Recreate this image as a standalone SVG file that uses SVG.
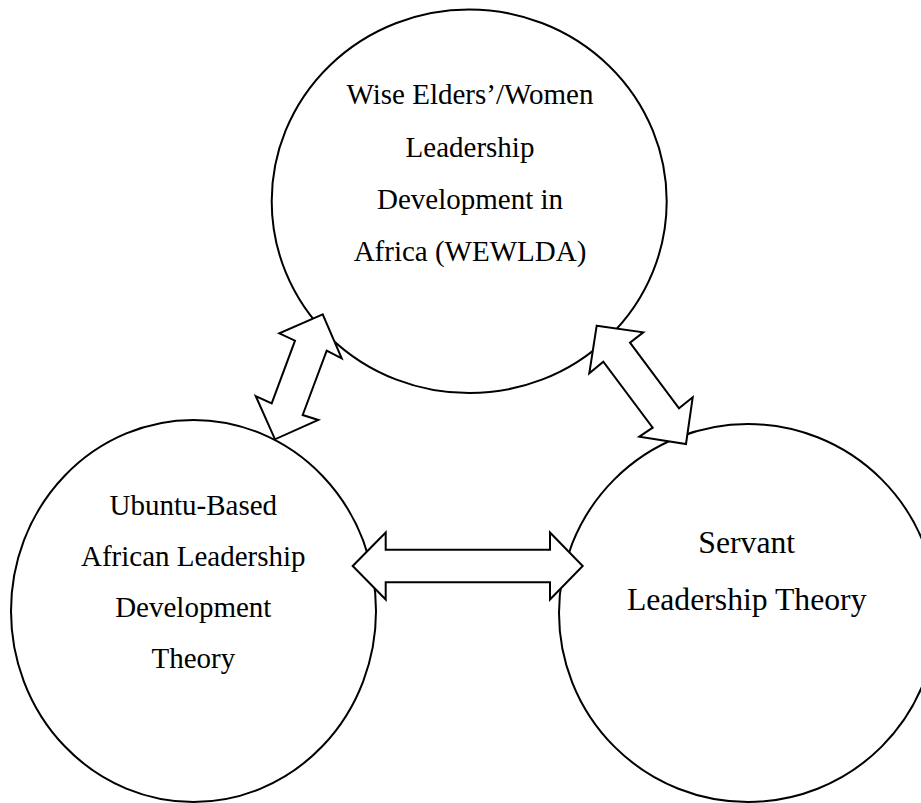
<svg xmlns="http://www.w3.org/2000/svg" width="921" height="803" viewBox="0 0 921 803">
  <style>
    .node { fill: #ffffff; stroke: #000000; stroke-width: 2; }
    .label { font-family: "Liberation Serif", "Times New Roman", serif; fill: #000000; text-anchor: middle; }
    .arrow { fill: #ffffff; stroke: #000000; stroke-width: 2; stroke-linejoin: miter; stroke-miterlimit: 10; }
  </style>
  <rect width="921" height="803" fill="#ffffff"/>

  <g id="wewlda">
    <ellipse class="node" cx="469.2" cy="201.3" rx="197.5" ry="191.8"/>
    <text class="label" font-size="29" x="470" y="104">Wise Elders’/Women</text>
    <text class="label" font-size="29" x="470" y="157">Leadership</text>
    <text class="label" font-size="29" x="470" y="209">Development in</text>
    <text class="label" font-size="29" x="470" y="261">Africa (WEWLDA)</text>
  </g>

  <g id="ubuntu">
    <ellipse class="node" cx="193.5" cy="611" rx="182.5" ry="191"/>
    <text class="label" font-size="29" x="193.3" y="515">Ubuntu-Based</text>
    <text class="label" font-size="29" x="193.3" y="566">African Leadership</text>
    <text class="label" font-size="29" x="193.3" y="617">Development</text>
    <text class="label" font-size="29" x="193.3" y="668">Theory</text>
  </g>

  <g id="servant">
    <ellipse class="node" cx="748" cy="613" rx="189" ry="189"/>
    <text class="label" font-size="31.7" x="746.7" y="553">Servant</text>
    <text class="label" font-size="31.7" x="746.7" y="610">Leadership Theory</text>
  </g>

  <g id="connectors">
    <!-- WEWLDA <-> Ubuntu -->
    <polygon class="arrow" points="322.7,314.3 279.3,333.3 295,340.7 271.7,403.3 255.7,396 275,439.3 318.3,420 302.7,415 326.7,350.7 341.7,358.3"/>
    <!-- WEWLDA <-> Servant -->
    <polygon class="arrow" points="596.7,325.7 643.3,332.3 630,342.7 679,408.3 692.7,397.3 686,444 639.3,436.7 652.7,427.7 603.3,361.7 589.3,373.3"/>
    <!-- Ubuntu <-> Servant -->
    <polygon class="arrow" points="352.7,566 385.7,532.5 385.7,549.8 550,549.8 550,532.5 582.7,566 550,599.5 550,582.2 385.7,582.2 385.7,599.5"/>
  </g>
</svg>
